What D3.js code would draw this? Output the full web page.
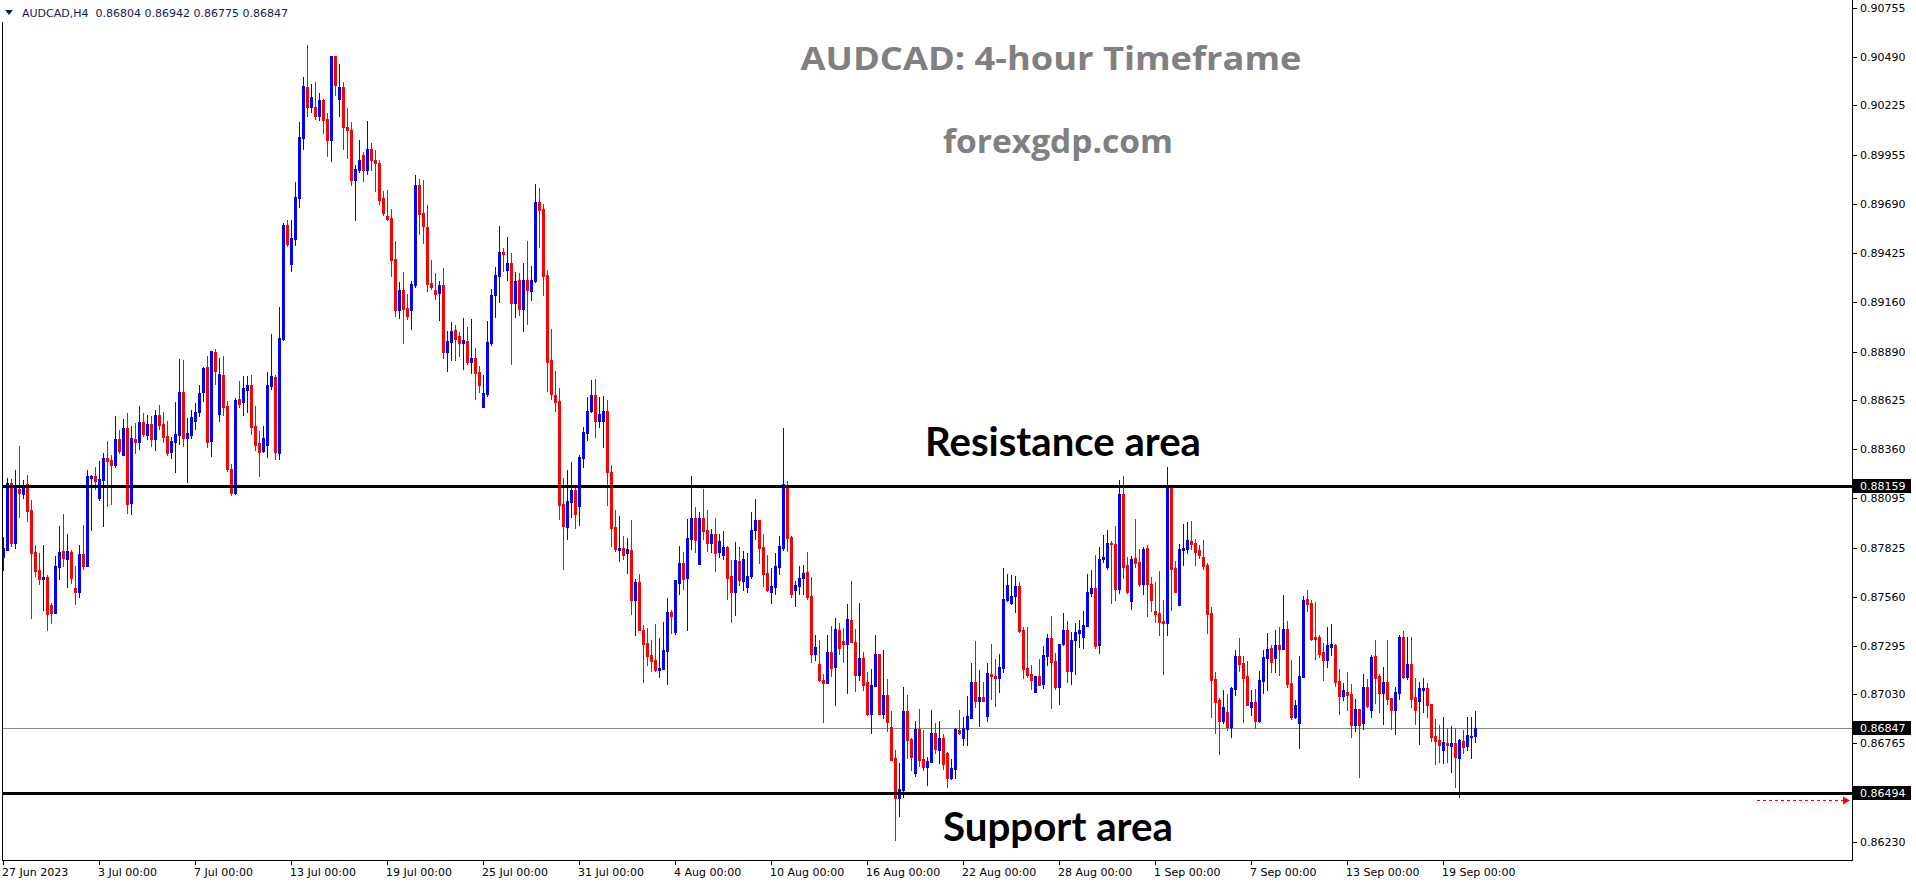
<!DOCTYPE html>
<html><head><meta charset="utf-8">
<script src="https://cdn.jsdelivr.net/npm/d3@7/dist/d3.min.js"></script>
<style>html,body{margin:0;padding:0;background:#fff;overflow:hidden}</style>
</head><body>
<svg id="chart" width="1916" height="884"></svg>
<script>
const opens=[
0.87777,0.87814,0.88175,0.87853,0.88144,0.88117,0.88172,0.88031,0.87803,0.87705,
0.87656,0.87667,0.87515,0.87472,0.87721,0.87808,0.87765,0.87804,0.87607,0.87586,
0.87792,0.87727,0.88202,0.88215,0.88096,0.88193,0.88313,0.88302,0.88275,0.88416,
0.88329,0.88475,0.88068,0.88416,0.88399,0.88508,0.88437,0.88497,0.88416,0.88546,
0.88497,0.88432,0.88345,0.88399,0.88437,0.88670,0.88423,0.88437,0.88513,0.88562,
0.88670,0.88806,0.88405,0.88887,0.88551,0.88763,0.88595,0.88253,0.88123,0.88633,
0.88616,0.88681,0.88708,0.88486,0.88394,0.88351,0.88383,0.88703,0.88752,0.88340,
0.88958,0.89576,0.89365,0.89500,0.89723,0.90048,0.90325,0.90216,0.90216,0.90167,
0.90254,0.90151,0.90037,0.90493,0.90260,0.90325,0.90108,0.90091,0.89820,0.89875,
0.89956,0.89875,0.89988,0.89929,0.89912,0.89723,0.89625,0.89614,0.89392,0.89115,
0.89224,0.89126,0.89115,0.89251,0.89793,0.89641,0.89565,0.89262,0.89224,0.89207,
0.89251,0.88887,0.88942,0.89007,0.88974,0.88936,0.88947,0.88833,0.88855,0.88779,
0.88589,0.88660,0.88936,0.89196,0.89300,0.89430,0.89332,0.89370,0.89153,0.89278,
0.89121,0.89278,0.89218,0.89272,0.89701,0.89663,0.89305,0.88844,0.88654,0.88622,
0.88063,0.87938,0.88074,0.88139,0.88052,0.88313,0.88448,0.88567,0.88654,0.88513,
0.88513,0.88567,0.88237,0.87938,0.87814,0.87824,0.87797,0.87814,0.87542,0.87640,
0.87380,0.87309,0.87244,0.87217,0.87163,0.87168,0.87266,0.87477,0.87369,0.87635,
0.87743,0.87662,0.87873,0.87987,0.87738,0.87987,0.87922,0.87852,0.87900,0.87803,
0.87786,0.87830,0.87673,0.87586,0.87754,0.87645,0.87613,0.87673,0.87922,0.87976,
0.87830,0.87689,0.87586,0.87613,0.87721,0.87824,0.88161,0.87884,0.87597,0.87618,
0.87662,0.87694,0.87564,0.87250,0.87195,0.87108,0.87092,0.87260,0.87179,0.87380,
0.87320,0.87304,0.87434,0.87315,0.87136,0.87228,0.87098,0.86924,0.87076,0.87250,
0.86924,0.87027,0.86854,0.86685,0.86469,0.86512,0.86940,0.86788,0.86604,0.86843,
0.86680,0.86637,0.86664,0.86821,0.86729,0.86794,0.86713,0.86577,0.86626,0.86837,
0.86794,0.86843,0.86902,0.87098,0.86995,0.87016,0.86913,0.87141,0.87130,0.87119,
0.87174,0.87542,0.87526,0.87564,0.87618,0.87380,0.87174,0.87141,0.87043,0.87130,
0.87087,0.87239,0.87336,0.87212,0.87070,0.87304,0.87380,0.87157,0.87325,0.87363,
0.87342,0.87401,0.87580,0.87607,0.87298,0.87765,0.87721,0.87852,0.87846,0.87602,
0.88117,0.87732,0.87537,0.87770,0.87748,0.87629,0.87824,0.87629,0.87483,0.87472,
0.87428,0.87418,0.88154,0.87716,0.87515,0.87814,0.87819,0.87862,0.87852,0.87814,
0.87776,0.87732,0.87472,0.87114,0.87000,0.86886,0.86935,0.86854,0.87060,0.87239,
0.87201,0.87130,0.86962,0.86989,0.86886,0.87103,0.87228,0.87282,0.87228,0.87298,
0.87277,0.87385,0.87092,0.86908,0.86875,0.87125,0.87548,0.87526,0.87342,0.87342,
0.87260,0.87217,0.87287,0.87298,0.87103,0.87022,0.87043,0.87033,0.86864,0.86951,
0.86875,0.87070,0.86946,0.87239,0.87130,0.87038,0.87098,0.87011,0.86946,0.87038,
0.87342,0.87125,0.87195,0.87016,0.86995,0.87054,0.87065,0.86978,0.86805,0.86783,
0.86729,0.86767,0.86750,0.86767,0.86685,0.86778,0.86750,0.86800,0.86804];
const highs=[
0.87886,0.88202,0.88197,0.88247,0.88378,0.88193,0.88220,0.88085,0.87841,0.87796,
0.87841,0.87678,0.87528,0.87781,0.87944,0.88009,0.87900,0.87814,0.87727,0.87841,
0.87949,0.88247,0.88220,0.88264,0.88296,0.88340,0.88405,0.88329,0.88540,0.88464,
0.88524,0.88557,0.88486,0.88502,0.88595,0.88557,0.88546,0.88540,0.88573,0.88600,
0.88562,0.88513,0.88426,0.88616,0.88849,0.88844,0.88531,0.88573,0.88611,0.88708,
0.88808,0.88866,0.88893,0.88904,0.88855,0.88866,0.88622,0.88280,0.88638,0.88730,
0.88757,0.88757,0.88763,0.88595,0.88459,0.88486,0.88779,0.88985,0.88763,0.89131,
0.89587,0.89603,0.89603,0.89809,0.90135,0.90379,0.90552,0.90341,0.90352,0.90292,
0.90260,0.90184,0.90493,0.90493,0.90449,0.90352,0.90211,0.90135,0.89902,0.90037,
0.89972,0.90140,0.90021,0.89983,0.89929,0.89761,0.89766,0.89663,0.89489,0.89267,
0.89321,0.89202,0.89272,0.89847,0.89826,0.89820,0.89685,0.89386,0.89316,0.89272,
0.89343,0.89001,0.89050,0.89034,0.88996,0.89072,0.89023,0.89066,0.88909,0.88812,
0.88763,0.89055,0.89229,0.89348,0.89571,0.89451,0.89511,0.89424,0.89321,0.89316,
0.89370,0.89489,0.89354,0.89799,0.89777,0.89690,0.89332,0.89012,0.88784,0.88692,
0.88204,0.88247,0.88291,0.88150,0.88329,0.88481,0.88643,0.88736,0.88741,0.88643,
0.88649,0.88627,0.88275,0.88031,0.87998,0.87889,0.87879,0.87976,0.87656,0.87683,
0.87407,0.87391,0.87325,0.87412,0.87336,0.87423,0.87553,0.87488,0.87651,0.87835,
0.87803,0.87982,0.88215,0.88047,0.88020,0.88144,0.88031,0.87927,0.87987,0.87900,
0.87917,0.87835,0.87759,0.87857,0.87830,0.87808,0.87797,0.88020,0.88090,0.87976,
0.87900,0.87786,0.87716,0.87797,0.87889,0.88475,0.88188,0.87889,0.87645,0.87727,
0.87732,0.87803,0.87667,0.87353,0.87325,0.87141,0.87353,0.87401,0.87445,0.87418,
0.87391,0.87521,0.87645,0.87385,0.87526,0.87260,0.87152,0.87168,0.87353,0.87250,
0.87271,0.87114,0.86940,0.86729,0.86658,0.87070,0.87027,0.86794,0.86886,0.86951,
0.86837,0.86691,0.86946,0.86875,0.86886,0.86816,0.86718,0.86680,0.86848,0.86946,
0.86908,0.87022,0.87201,0.87320,0.87163,0.87098,0.87201,0.87304,0.87222,0.87250,
0.87716,0.87683,0.87678,0.87673,0.87640,0.87396,0.87396,0.87190,0.87130,0.87222,
0.87293,0.87358,0.87456,0.87255,0.87304,0.87472,0.87428,0.87369,0.87418,0.87434,
0.87483,0.87683,0.87705,0.87786,0.87830,0.87895,0.87922,0.87862,0.87944,0.88193,
0.88215,0.87776,0.87781,0.87982,0.87819,0.87830,0.87841,0.87667,0.87640,0.87700,
0.87542,0.88264,0.88154,0.87754,0.87846,0.87955,0.87965,0.87971,0.87873,0.87841,
0.87868,0.87743,0.87504,0.87152,0.87011,0.87054,0.87033,0.87070,0.87271,0.87336,
0.87239,0.87212,0.87054,0.87060,0.87157,0.87271,0.87363,0.87298,0.87380,0.87396,
0.87570,0.87428,0.87217,0.87000,0.87239,0.87564,0.87597,0.87542,0.87531,0.87353,
0.87309,0.87396,0.87412,0.87304,0.87168,0.87092,0.87152,0.87087,0.87005,0.86951,
0.87141,0.87114,0.87244,0.87325,0.87141,0.87179,0.87325,0.87011,0.87070,0.87353,
0.87374,0.87342,0.87342,0.87119,0.87098,0.87119,0.87092,0.86978,0.86897,0.86864,
0.86908,0.86848,0.86859,0.86848,0.86788,0.86837,0.86908,0.86908,0.86942];
const lows=[
0.87705,0.87814,0.87835,0.87826,0.87994,0.88097,0.87972,0.87446,0.87673,0.87629,
0.87488,0.87381,0.87419,0.87472,0.87656,0.87727,0.87613,0.87636,0.87521,0.87559,
0.87711,0.87727,0.87922,0.88146,0.88085,0.87944,0.88052,0.88063,0.88264,0.88340,
0.88329,0.88014,0.88009,0.88340,0.88361,0.88432,0.88416,0.88378,0.88356,0.88470,
0.88399,0.88329,0.88313,0.88237,0.88388,0.88378,0.88184,0.88421,0.88470,0.88540,
0.88622,0.88372,0.88323,0.88714,0.88513,0.88546,0.88242,0.88112,0.88117,0.88589,
0.88546,0.88562,0.88443,0.88356,0.88215,0.88345,0.88318,0.88687,0.88307,0.88307,
0.88953,0.89462,0.89327,0.89468,0.89674,0.89988,0.90167,0.90189,0.90151,0.90146,
0.90075,0.89950,0.89923,0.90281,0.90167,0.89988,0.89940,0.89793,0.89603,0.89864,
0.89815,0.89853,0.89875,0.89761,0.89690,0.89630,0.89603,0.89300,0.89083,0.89072,
0.88936,0.89066,0.89012,0.89240,0.89527,0.89479,0.89218,0.89229,0.89175,0.89061,
0.88855,0.88784,0.88844,0.88844,0.88866,0.88795,0.88822,0.88774,0.88633,0.88670,
0.88589,0.88649,0.88925,0.89077,0.89159,0.89327,0.89278,0.88822,0.89077,0.89088,
0.89001,0.89039,0.89169,0.89267,0.89457,0.89196,0.88676,0.88633,0.88567,0.87982,
0.87711,0.87873,0.87992,0.87933,0.87949,0.88264,0.88410,0.88562,0.88426,0.88481,
0.88372,0.88058,0.87835,0.87808,0.87754,0.87765,0.87689,0.87466,0.87353,0.87380,
0.87098,0.87190,0.87157,0.87157,0.87125,0.87168,0.87087,0.87363,0.87358,0.87575,
0.87602,0.87380,0.87819,0.87803,0.87738,0.87873,0.87808,0.87803,0.87700,0.87776,
0.87765,0.87548,0.87423,0.87461,0.87624,0.87597,0.87586,0.87662,0.87873,0.87743,
0.87618,0.87591,0.87526,0.87575,0.87683,0.87814,0.87808,0.87559,0.87510,0.87575,
0.87575,0.87548,0.87206,0.87217,0.87103,0.86881,0.87092,0.87130,0.86973,0.87250,
0.87206,0.87038,0.87315,0.87049,0.87108,0.87054,0.86919,0.86821,0.87076,0.86924,
0.86902,0.86832,0.86675,0.86241,0.86371,0.86474,0.86685,0.86620,0.86588,0.86642,
0.86620,0.86539,0.86664,0.86713,0.86658,0.86626,0.86528,0.86572,0.86577,0.86816,
0.86756,0.86756,0.86902,0.86962,0.86859,0.86995,0.86886,0.87005,0.86967,0.87043,
0.87152,0.87537,0.87521,0.87477,0.87369,0.87119,0.87125,0.87060,0.87043,0.87081,
0.87065,0.87190,0.86957,0.87060,0.86978,0.87298,0.87098,0.87087,0.87141,0.87287,
0.87282,0.87401,0.87564,0.87282,0.87255,0.87748,0.87711,0.87526,0.87542,0.87580,
0.87662,0.87580,0.87494,0.87721,0.87618,0.87575,0.87456,0.87483,0.87423,0.87353,
0.87141,0.87353,0.87488,0.87586,0.87515,0.87732,0.87797,0.87819,0.87732,0.87770,
0.87711,0.87363,0.86908,0.86821,0.86707,0.86875,0.86837,0.86799,0.87027,0.87157,
0.86881,0.86973,0.86919,0.86848,0.86881,0.87038,0.87054,0.87152,0.87152,0.87136,
0.87277,0.87070,0.86897,0.86902,0.86740,0.87125,0.87483,0.87325,0.87222,0.87233,
0.87108,0.87179,0.87244,0.87076,0.86924,0.87000,0.86946,0.86799,0.86832,0.86582,
0.86843,0.86962,0.86908,0.86984,0.86935,0.86870,0.86978,0.86843,0.86816,0.87005,
0.87119,0.87114,0.86962,0.86870,0.86761,0.86935,0.86908,0.86778,0.86653,0.86664,
0.86658,0.86664,0.86610,0.86528,0.86474,0.86713,0.86729,0.86685,0.86775];
const closes=[
0.87823,0.88175,0.87853,0.88157,0.88121,0.88166,0.88025,0.87799,0.87701,0.87658,
0.87667,0.87468,0.87470,0.87727,0.87803,0.87770,0.87808,0.87662,0.87586,0.87792,
0.87727,0.88215,0.88217,0.88188,0.88199,0.88313,0.88296,0.88275,0.88416,0.88351,
0.88475,0.88063,0.88421,0.88399,0.88508,0.88443,0.88497,0.88416,0.88546,0.88492,
0.88426,0.88340,0.88405,0.88443,0.88670,0.88423,0.88448,0.88535,0.88562,0.88665,
0.88802,0.88399,0.88893,0.88784,0.88768,0.88589,0.88253,0.88123,0.88627,0.88605,
0.88692,0.88708,0.88481,0.88383,0.88345,0.88421,0.88708,0.88757,0.88345,0.88963,
0.89576,0.89473,0.89506,0.89728,0.90054,0.90330,0.90216,0.90270,0.90167,0.90254,
0.90146,0.90037,0.90493,0.90336,0.90325,0.90108,0.90091,0.89820,0.89880,0.89929,
0.89875,0.89988,0.89929,0.89912,0.89712,0.89641,0.89609,0.89386,0.89115,0.89224,
0.89121,0.89083,0.89256,0.89793,0.89636,0.89571,0.89256,0.89240,0.89202,0.89251,
0.88887,0.88947,0.89001,0.88958,0.88936,0.88953,0.88833,0.88855,0.88774,0.88708,
0.88665,0.88942,0.89196,0.89305,0.89430,0.89419,0.89370,0.89153,0.89272,0.89121,
0.89278,0.89224,0.89278,0.89701,0.89658,0.89300,0.88833,0.88660,0.88616,0.88058,
0.87944,0.88079,0.88139,0.88009,0.88318,0.88454,0.88567,0.88654,0.88513,0.88551,
0.88567,0.88237,0.87933,0.87819,0.87824,0.87786,0.87819,0.87542,0.87640,0.87380,
0.87304,0.87239,0.87212,0.87163,0.87174,0.87271,0.87477,0.87456,0.87651,0.87743,
0.87656,0.87879,0.87987,0.87868,0.87987,0.87917,0.87852,0.87900,0.87797,0.87862,
0.87830,0.87662,0.87586,0.87759,0.87651,0.87765,0.87673,0.87922,0.87976,0.87824,
0.87683,0.87597,0.87618,0.87727,0.87835,0.88172,0.87879,0.87575,0.87624,0.87662,
0.87689,0.87559,0.87250,0.87287,0.87108,0.87092,0.87260,0.87174,0.87385,0.87282,
0.87304,0.87439,0.87315,0.87136,0.87228,0.87081,0.86924,0.87081,0.87250,0.86924,
0.87027,0.86881,0.86675,0.86469,0.86517,0.86940,0.86783,0.86691,0.86843,0.86675,
0.86637,0.86669,0.86821,0.86734,0.86794,0.86653,0.86577,0.86631,0.86843,0.86821,
0.86848,0.86913,0.87098,0.86995,0.87016,0.86995,0.87146,0.87130,0.87119,0.87179,
0.87548,0.87624,0.87564,0.87618,0.87374,0.87168,0.87136,0.87108,0.87130,0.87081,
0.87244,0.87336,0.87206,0.87070,0.87304,0.87380,0.87157,0.87325,0.87369,0.87380,
0.87407,0.87586,0.87607,0.87293,0.87765,0.87776,0.87852,0.87846,0.87602,0.88117,
0.87721,0.87586,0.87765,0.87743,0.87629,0.87819,0.87629,0.87542,0.87466,0.87423,
0.87418,0.88154,0.87711,0.87586,0.87819,0.87824,0.87868,0.87846,0.87803,0.87786,
0.87727,0.87466,0.87108,0.86989,0.86886,0.86962,0.86854,0.87065,0.87239,0.87195,
0.87119,0.86973,0.86989,0.86886,0.87108,0.87233,0.87277,0.87206,0.87298,0.87277,
0.87385,0.87087,0.86908,0.86973,0.87130,0.87542,0.87521,0.87331,0.87331,0.87250,
0.87217,0.87298,0.87304,0.87098,0.87022,0.87054,0.87027,0.86864,0.86951,0.86864,
0.87070,0.86967,0.87233,0.87119,0.87038,0.87098,0.87005,0.86946,0.87043,0.87342,
0.87125,0.87195,0.87005,0.86946,0.87065,0.87065,0.86973,0.86799,0.86778,0.86756,
0.86772,0.86756,0.86767,0.86691,0.86783,0.86745,0.86810,0.86804,0.86847];

const priceTicks=[0.90755,0.90490,0.90225,0.89955,0.89690,0.89425,0.89160,0.88890,0.88625,0.88360,0.88095,0.87825,0.87560,0.87295,0.87030,0.86765,0.86230];
const timeLabels=["27 Jun 2023","3 Jul 00:00","7 Jul 00:00","13 Jul 00:00","19 Jul 00:00","25 Jul 00:00","31 Jul 00:00","4 Aug 00:00","10 Aug 00:00","16 Aug 00:00","22 Aug 00:00","28 Aug 00:00","1 Sep 00:00","7 Sep 00:00","13 Sep 00:00","19 Sep 00:00"];
const timeLabelBars=[0,24,48,72,96,120,144,168,192,216,240,264,288,312,336,360];
const resistanceLevel=0.88159, supportLevel=0.86494, bidPrice=0.86847;
const headerText="AUDCAD,H4  0.86804 0.86942 0.86775 0.86847";
const titleText="AUDCAD: 4-hour Timeframe", siteText="forexgdp.com";
const resistanceText="Resistance area", supportText="Support area";

const svg=d3.select("#chart");
const L=2,R=1852,B=860;
const x=d3.scaleLinear().domain([0,368]).range([3,1475]);
const y=d3.scaleLinear().domain([0.86230,0.90755]).range([842,7.65]);
const BLUE="#0000ff",RED="#ff0000";

const plot=svg.append("g").attr("shape-rendering","crispEdges");
// bid line
plot.append("rect").attr("x",L).attr("width",R-L).attr("y",Math.round(y(bidPrice))).attr("height",1).attr("fill","#7f8c99");

const data=opens.map((o,i)=>({i,o,h:highs[i],l:lows[i],c:closes[i]}));
const cg=plot.append("g");
data.forEach(d=>{
  const cx=Math.round(x(d.i));
  const col=d.c>=d.o?BLUE:RED;
  const yh=Math.round(y(d.h)), yl=Math.round(y(d.l));
  cg.append("rect").attr("x",cx).attr("y",yh).attr("width",1).attr("height",Math.max(1,yl-yh+1)).attr("fill",col);
  const yt=Math.round(y(Math.max(d.o,d.c))), yb=Math.round(y(Math.min(d.o,d.c)));
  cg.append("rect").attr("x",cx-1).attr("y",yt).attr("width",3).attr("height",Math.max(1,yb-yt+1)).attr("fill",col);
});

// horizontal level lines
[resistanceLevel,supportLevel].forEach(p=>{
  plot.append("rect").attr("x",L).attr("width",R-L).attr("y",Math.round(y(p))-1).attr("height",3).attr("fill","#000");
});

// frame
plot.append("rect").attr("x",L).attr("y",22).attr("width",1).attr("height",B-22).attr("fill","#000");
plot.append("rect").attr("x",R).attr("y",0).attr("width",1).attr("height",B+1).attr("fill","#000");
plot.append("rect").attr("x",L).attr("y",B).attr("width",R-L+1).attr("height",1).attr("fill","#000");

// y axis
const ax=svg.append("g").attr("font-family","'DejaVu Sans',sans-serif").attr("font-size",11);
priceTicks.forEach(p=>{
  const yy=Math.round(y(p));
  ax.append("rect").attr("x",R+1).attr("y",yy).attr("width",4).attr("height",1).attr("fill","#000").attr("shape-rendering","crispEdges");
  ax.append("text").attr("x",R+8).attr("y",yy).attr("dy","0.36em").attr("fill","#000").text(p.toFixed(5));
});
[resistanceLevel,supportLevel,bidPrice].forEach(p=>{
  const yy=Math.round(y(p));
  ax.append("rect").attr("x",R+1).attr("y",yy-7).attr("width",58).attr("height",14).attr("fill","#000").attr("shape-rendering","crispEdges");
  ax.append("text").attr("x",R+8).attr("y",yy).attr("dy","0.36em").attr("fill","#fff").text(p.toFixed(5));
});

// x axis
timeLabels.forEach((t,k)=>{
  const xx=Math.round(x(timeLabelBars[k]));
  ax.append("rect").attr("x",xx).attr("y",B).attr("width",1).attr("height",5).attr("fill","#000").attr("shape-rendering","crispEdges");
  ax.append("text").attr("x",xx-1).attr("y",876).attr("fill","#000").text(t);
});

// red dashed arrow near support
const ay=800;
svg.append("line").attr("x1",1757).attr("x2",1845).attr("y1",ay+0.5).attr("y2",ay+0.5).attr("stroke",RED).attr("stroke-width",1).attr("stroke-dasharray","3,3");
svg.append("path").attr("d",`M1843,${ay-3.5} L1850,${ay+0.5} L1843,${ay+4.5} Z`).attr("fill",RED);

// header
svg.append("path").attr("d","M5,10 L13,10 L9,15 Z").attr("fill","#10205e");
svg.append("text").attr("x",22).attr("y",17).attr("font-family","'DejaVu Sans',sans-serif").attr("font-size",11).attr("fill","#10205e").attr("xml:space","preserve").style("white-space","pre").text(headerText);

// annotations
const ann=svg.append("g").attr("font-weight","bold");
ann.append("text").attr("x",1051).attr("y",70).attr("text-anchor","middle").attr("font-family","'Open Sans',sans-serif").attr("font-size",32).attr("fill","#808080").attr("textLength",501).attr("lengthAdjust","spacingAndGlyphs").text(titleText);
ann.append("text").attr("x",1058).attr("y",153).attr("text-anchor","middle").attr("font-family","'Open Sans',sans-serif").attr("font-size",32).attr("fill","#808080").attr("textLength",230).attr("lengthAdjust","spacingAndGlyphs").text(siteText);
ann.append("text").attr("x",1063).attr("y",456).attr("text-anchor","middle").attr("font-family","Lato,'Open Sans',sans-serif").attr("font-size",40).attr("fill","#000").attr("textLength",276).attr("lengthAdjust","spacingAndGlyphs").text(resistanceText);
ann.append("text").attr("x",1058).attr("y",841).attr("text-anchor","middle").attr("font-family","Lato,'Open Sans',sans-serif").attr("font-size",40).attr("fill","#000").attr("textLength",230).attr("lengthAdjust","spacingAndGlyphs").text(supportText);
</script>
</body></html>
